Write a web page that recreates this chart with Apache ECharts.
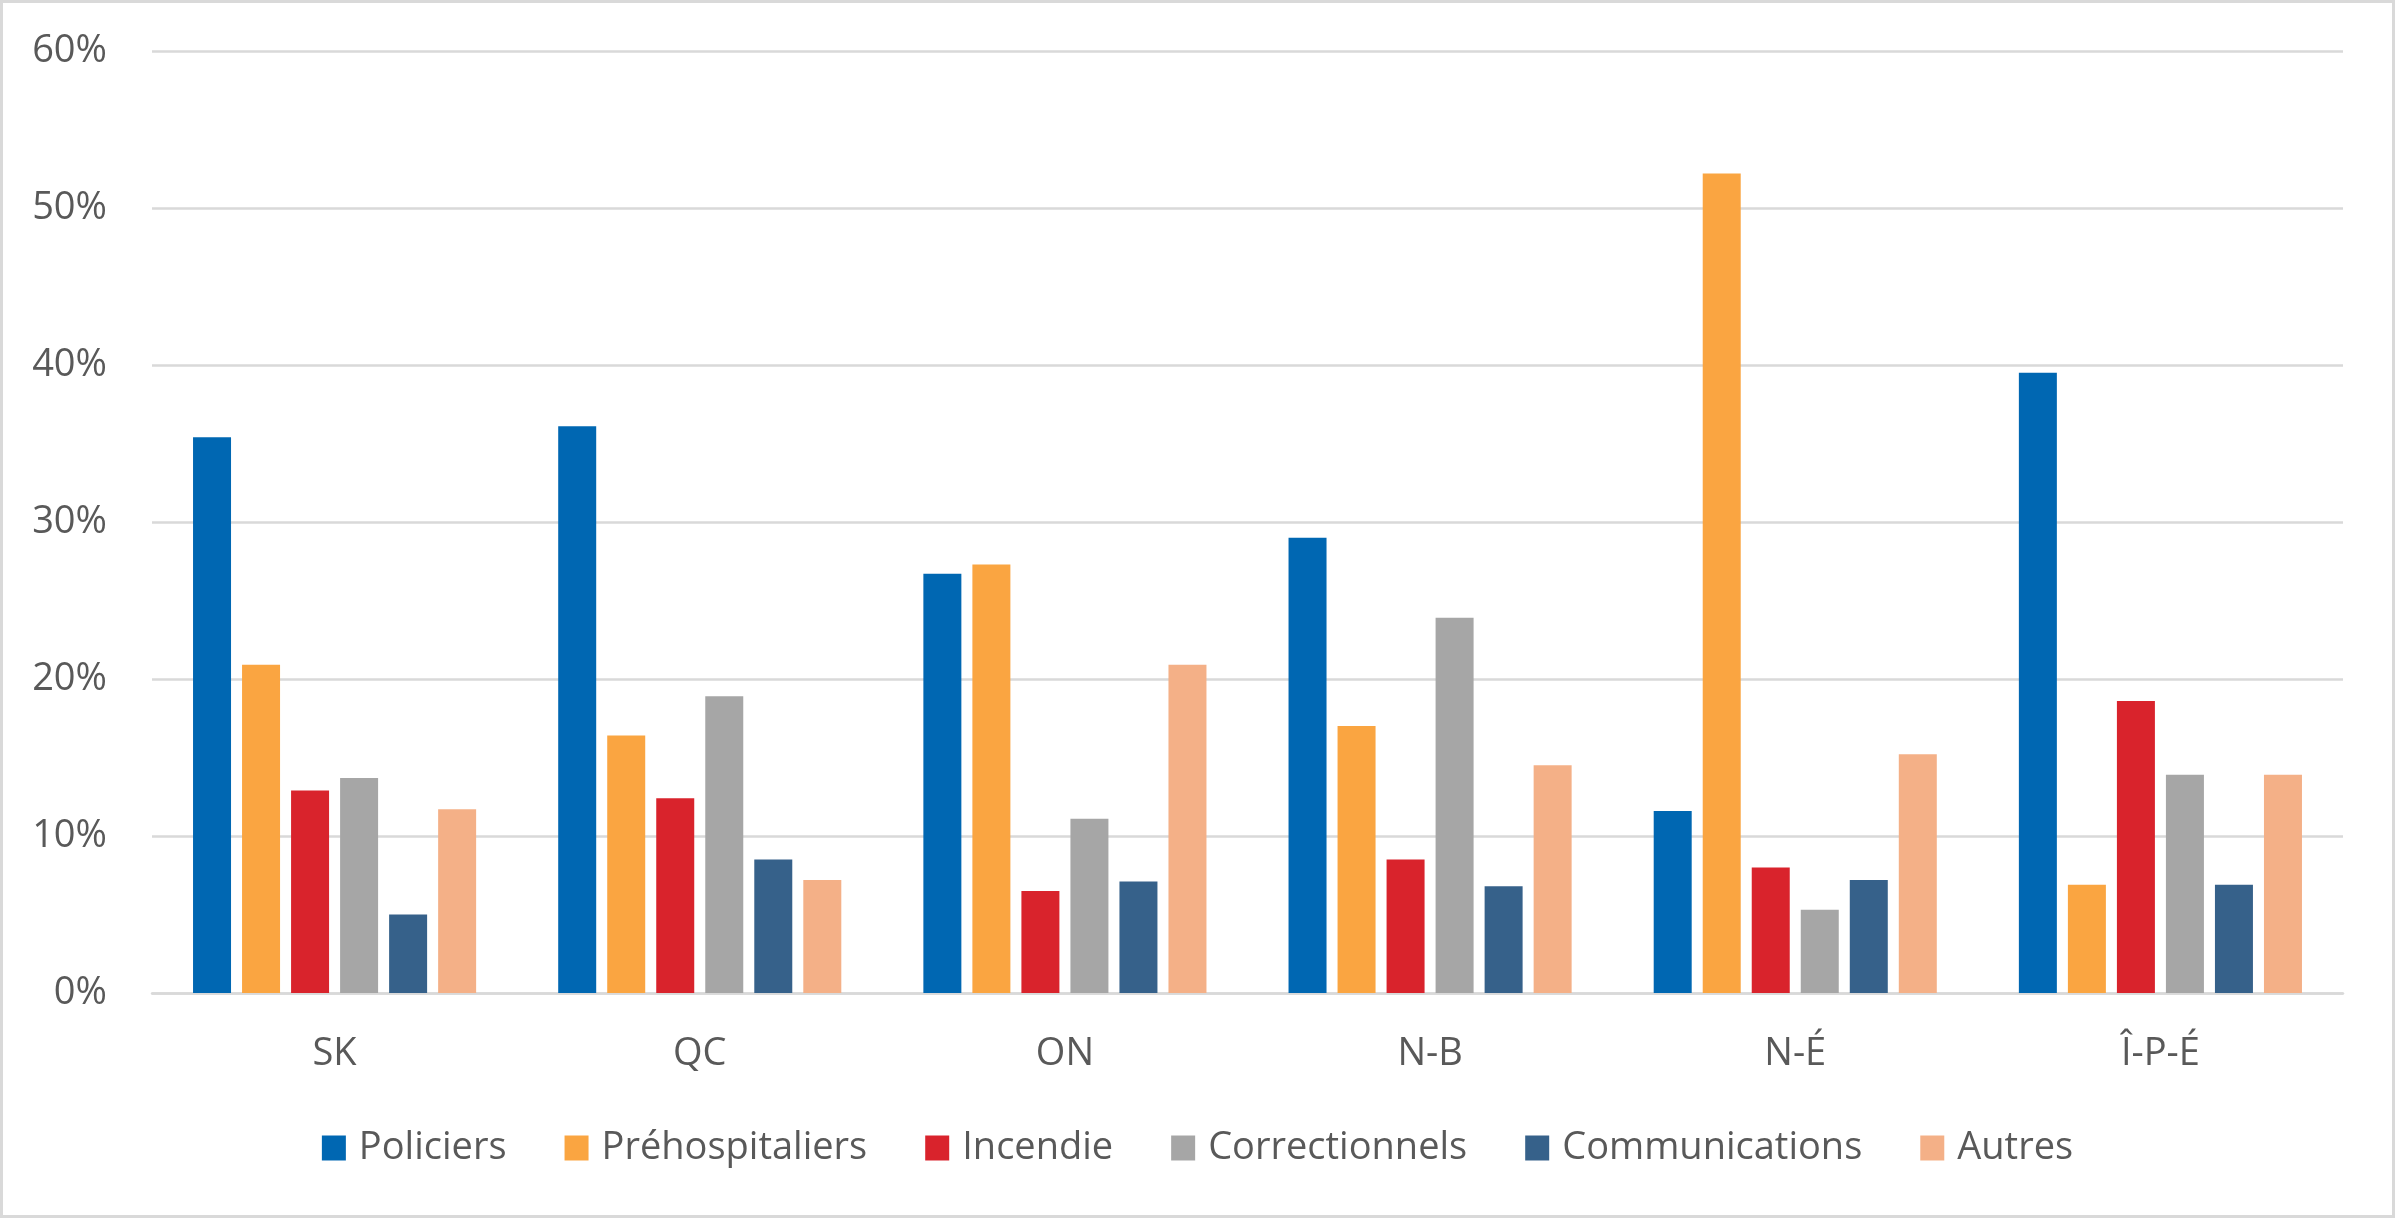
<!DOCTYPE html>
<html>
<head>
<meta charset="utf-8">
<script src="https://cdn.jsdelivr.net/npm/echarts@6/dist/echarts.min.js"></script>
<style>
html,body{margin:0;padding:0;background:#fff;}
#c{width:2395px;height:1218px;box-sizing:border-box;border:3px solid #d9d9d9;}
</style>
</head>
<body>
<div id="c"></div>
<script>
const categories = ['SK', 'QC', 'ON', 'N-B', 'N-É', 'Î-P-É'];
const policiers = [35.4, 36.1, 26.7, 29.0, 11.6, 39.5];
const prehospitaliers = [20.9, 16.4, 27.3, 17.0, 52.2, 6.9];
const incendie = [12.9, 12.4, 6.5, 8.5, 8.0, 18.6];
const correctionnels = [13.7, 18.9, 11.1, 23.9, 5.3, 13.9];
const communications = [5.0, 8.5, 7.1, 6.8, 7.2, 6.9];
const autres = [11.7, 7.2, 20.9, 14.5, 15.2, 13.9];
const yTicks = [0, 10, 20, 30, 40, 50, 60];

const seriesDefs = [
  ['Policiers', policiers, '#0067b2'],
  ['Préhospitaliers', prehospitaliers, '#faa541'],
  ['Incendie', incendie, '#d9232c'],
  ['Correctionnels', correctionnels, '#a6a6a6'],
  ['Communications', communications, '#36618a'],
  ['Autres', autres, '#f4b087']
];

const FONT = '"Open Sans", "Noto Sans", sans-serif';
const chart = echarts.init(document.getElementById('c'), null, {renderer: 'canvas'});
chart.setOption({
  animation: false,
  backgroundColor: '#fff',
  grid: {left: 149, right: 49, top: 48, bottom: 222, containLabel: false},
  legend: {
    top: 1121,
    left: 'center',
    itemWidth: 24,
    itemHeight: 25,
    itemGap: 58,
    icon: 'rect',
    textStyle: {fontFamily: FONT, fontSize: 38, color: '#595959', padding: [0, 0, 0, 8]},
    data: seriesDefs.map(s => s[0])
  },
  xAxis: {
    type: 'category',
    data: categories,
    axisLine: {show: true, lineStyle: {color: '#d9d9d9', width: 2.5}},
    axisTick: {show: false},
    axisLabel: {fontFamily: FONT, fontSize: 38, color: '#595959', margin: 42}
  },
  yAxis: {
    type: 'value',
    min: yTicks[0],
    max: yTicks[yTicks.length - 1],
    interval: 10,
    axisLine: {show: false},
    axisTick: {show: false},
    splitLine: {lineStyle: {color: '#d9d9d9', width: 2.5}},
    axisLabel: {fontFamily: FONT, fontSize: 38, color: '#595959', margin: 45, formatter: v => v + '%'}
  },
  series: seriesDefs.map(s => ({
    name: s[0],
    type: 'bar',
    data: s[1],
    barWidth: 38,
    barGap: '29%',
    itemStyle: {color: s[2]}
  }))
});
</script>
</body>
</html>
